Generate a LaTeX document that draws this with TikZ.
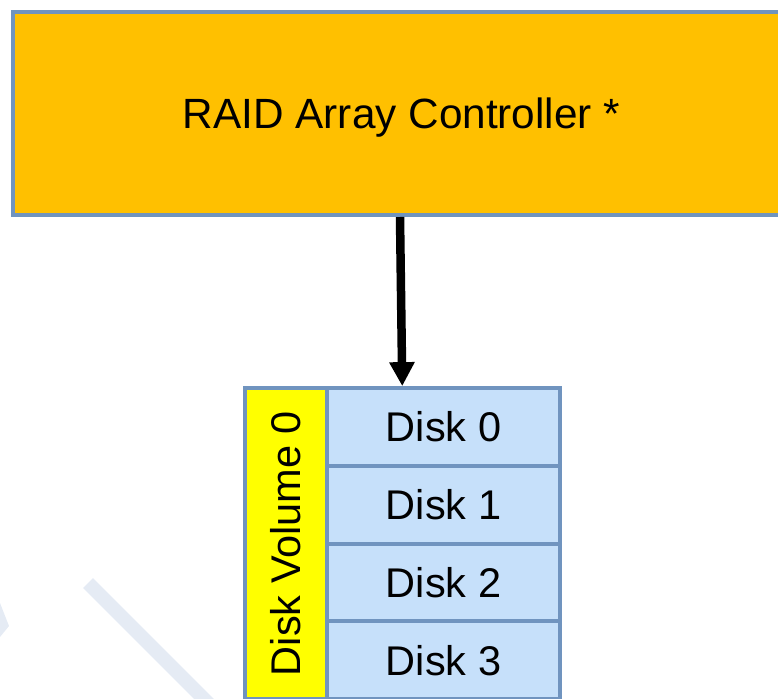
\documentclass[tikz,border=0pt]{standalone}
\usepackage{fontspec}
\setmainfont{Liberation Sans}
\usetikzlibrary{arrows.meta,calc}
\definecolor{ctrlfill}{HTML}{FFC000}
\definecolor{edgeblue}{HTML}{7094BF}
\definecolor{diskfill}{HTML}{C6E0FA}
\definecolor{volfill}{HTML}{FFFF00}
\definecolor{markgray}{HTML}{E5EBF4}
\tikzset{
  boxtext/.style={font=\fontsize{41.5}{48}\selectfont, text height=29.7pt, text depth=0pt, inner sep=0pt},
  ctrlbox/.style={boxtext, font=\fontsize{42.3}{48}\selectfont, draw=edgeblue, line width=4pt, fill=ctrlfill, minimum width=777pt, minimum height=203pt},
  diskbox/.style={boxtext, draw=edgeblue, line width=4pt, fill=diskfill, minimum width=233pt, minimum height=77.75pt},
  volbox/.style={draw=edgeblue, line width=4pt, fill=volfill, minimum width=82pt, minimum height=311pt, inner sep=0pt},
  flow/.style={line width=8.5pt, -{Triangle[width=24pt,length=24pt]}}
}
\begin{document}
\begin{tikzpicture}[x=1pt,y=-1pt]
\useasboundingbox (0,0) rectangle (778,698);
\clip (0,0) rectangle (778,698);
% faint background marks
\fill[markgray] (0,603) -- (9,626) -- (0,637) -- cycle;
\draw[markgray, line width=14pt] (88,583) -- (210,705);
% controller
\node[ctrlbox] (ctrl) at (401.5,113.5) {RAID Array Controller *};
% disk volume
\node[volbox] (vol) at (286,543.5) {};
\node[rotate=90, boxtext] (vollabel) at (vol.center) {Disk Volume 0};
\foreach \i in {0,1,2,3} {
  \node[diskbox] (disk\i) at (443.5,{427+77.75*\i}) {Disk \i};
}
% connection
\draw[flow] (ctrl.south) ++(-1.5,0) -- ($(disk0.north west)!0.326!(disk0.north east)$);
\end{tikzpicture}
\end{document}
